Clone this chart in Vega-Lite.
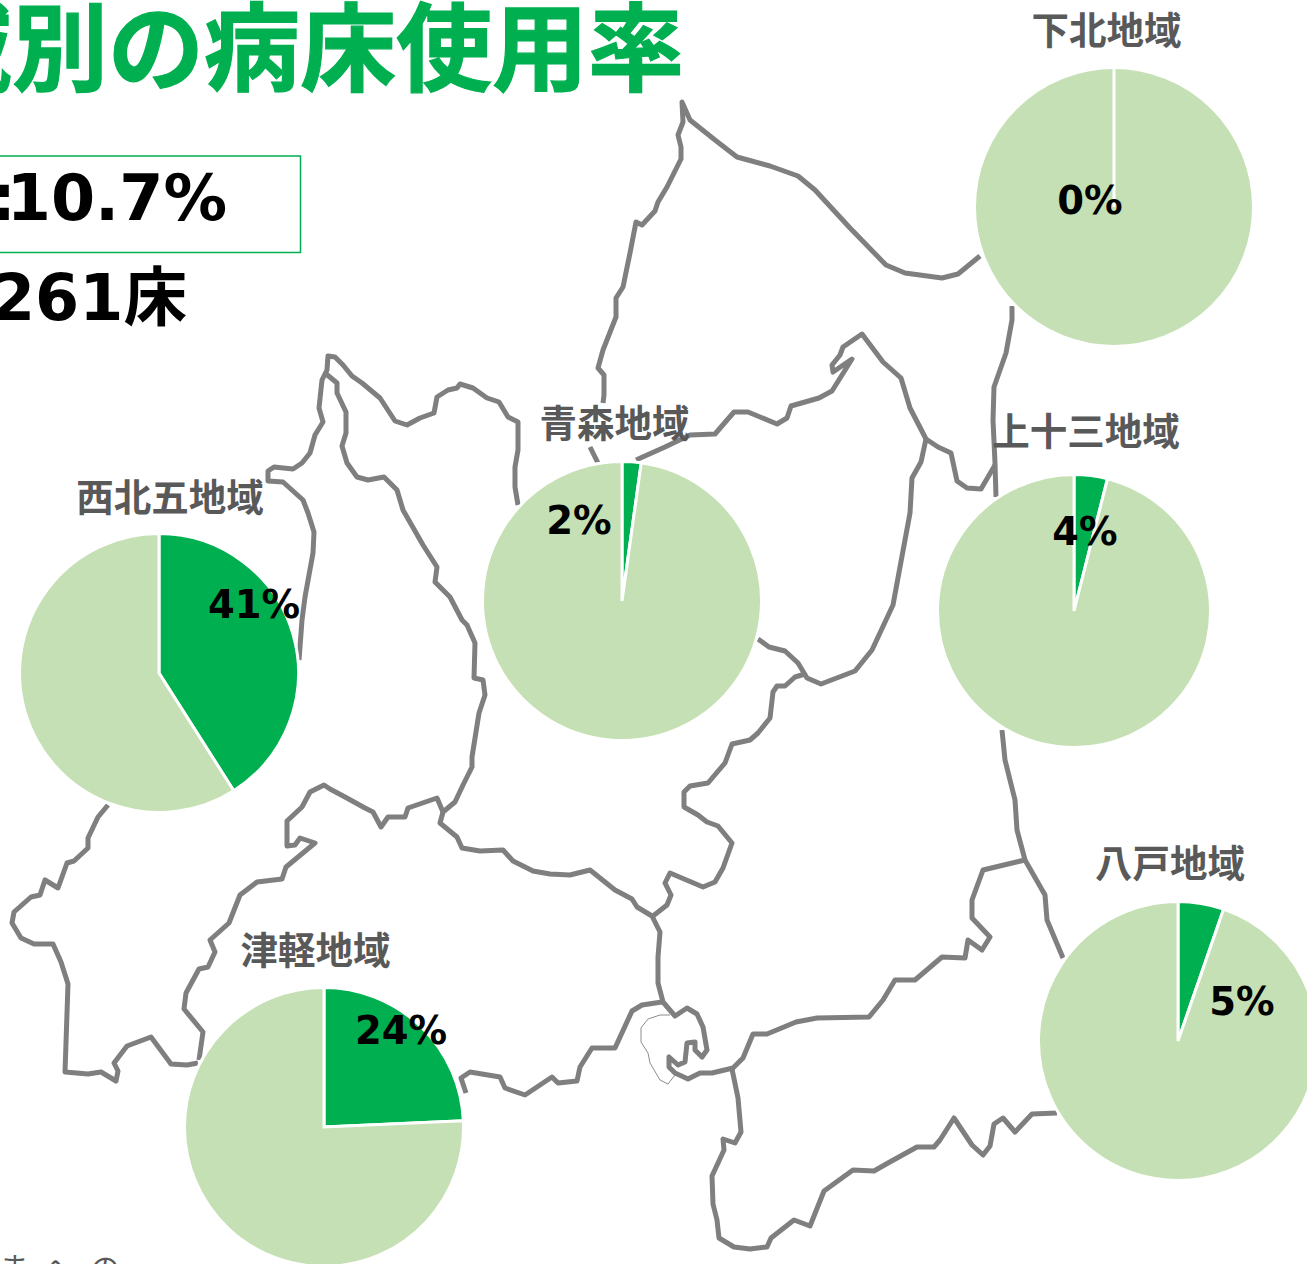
{"$schema":"https://vega.github.io/schema/vega-lite/v6.json","width":1307,"height":1264,"padding":0,"autosize":{"type":"none"},"background":"white","config":{"view":{"stroke":null}},
"datasets":{
"coast":[
{"s":"a","x":980,"y":256},{"s":"a","x":958,"y":274},{"s":"a","x":942,"y":278},{"s":"a","x":905,"y":273},{"s":"a","x":886,"y":265},{"s":"a","x":850,"y":228},{"s":"a","x":815,"y":190},{"s":"a","x":798,"y":176},{"s":"a","x":770,"y":166},{"s":"a","x":737,"y":157},{"s":"a","x":715,"y":140},{"s":"a","x":700,"y":128},{"s":"a","x":690,"y":120},{"s":"a","x":682,"y":102},{"s":"a","x":683,"y":122},{"s":"a","x":678,"y":135},{"s":"a","x":681,"y":147},{"s":"a","x":681,"y":159},{"s":"a","x":667,"y":187},{"s":"a","x":658,"y":202},{"s":"a","x":655,"y":211},{"s":"a","x":642,"y":225},{"s":"a","x":636,"y":222},{"s":"a","x":630,"y":253},{"s":"a","x":623,"y":287},{"s":"a","x":616,"y":298},{"s":"a","x":616,"y":317},{"s":"a","x":603,"y":350},{"s":"a","x":598,"y":368},{"s":"a","x":604,"y":375},{"s":"a","x":604,"y":395},{"s":"a","x":603,"y":403},
{"s":"a2","x":590,"y":447},{"s":"a2","x":598,"y":463},
{"s":"b","x":1012,"y":306},{"s":"b","x":1012,"y":320},{"s":"b","x":1006,"y":353},{"s":"b","x":994,"y":387},{"s":"b","x":993,"y":420},{"s":"b","x":995,"y":463},{"s":"b","x":996,"y":497},
{"s":"c","x":636,"y":460},{"s":"c","x":665,"y":447},{"s":"c","x":690,"y":435},{"s":"c","x":715,"y":434},{"s":"c","x":734,"y":412},{"s":"c","x":748,"y":412},{"s":"c","x":777,"y":424},{"s":"c","x":787,"y":418},{"s":"c","x":791,"y":406},{"s":"c","x":819,"y":398},{"s":"c","x":832,"y":391},{"s":"c","x":852,"y":359},{"s":"c","x":833,"y":372},{"s":"c","x":832,"y":365},{"s":"c","x":840,"y":355},{"s":"c","x":843,"y":347},{"s":"c","x":862,"y":334},{"s":"c","x":883,"y":362},{"s":"c","x":901,"y":378},{"s":"c","x":910,"y":408},{"s":"c","x":926,"y":439},{"s":"c","x":938,"y":447},{"s":"c","x":951,"y":453},{"s":"c","x":957,"y":481},{"s":"c","x":967,"y":488},{"s":"c","x":981,"y":489},{"s":"c","x":995,"y":465},
{"s":"d","x":926,"y":439},{"s":"d","x":921,"y":462},{"s":"d","x":912,"y":478},{"s":"d","x":910,"y":513},{"s":"d","x":900,"y":567},{"s":"d","x":893,"y":605},{"s":"d","x":872,"y":650},{"s":"d","x":855,"y":671},{"s":"d","x":821,"y":684},{"s":"d","x":807,"y":678},{"s":"d","x":798,"y":663},{"s":"d","x":785,"y":651},{"s":"d","x":769,"y":647},{"s":"d","x":758,"y":639},
{"s":"e","x":805,"y":674},{"s":"e","x":795,"y":677},{"s":"e","x":785,"y":686},{"s":"e","x":777,"y":686},{"s":"e","x":773,"y":692},{"s":"e","x":770,"y":718},{"s":"e","x":758,"y":733},{"s":"e","x":750,"y":740},{"s":"e","x":732,"y":744},{"s":"e","x":725,"y":763},{"s":"e","x":708,"y":783},{"s":"e","x":690,"y":786},{"s":"e","x":684,"y":792},{"s":"e","x":684,"y":807},{"s":"e","x":698,"y":815},{"s":"e","x":707,"y":822},{"s":"e","x":718,"y":826},{"s":"e","x":732,"y":843},{"s":"e","x":723,"y":868},{"s":"e","x":715,"y":882},{"s":"e","x":703,"y":887},{"s":"e","x":670,"y":873},{"s":"e","x":665,"y":883},{"s":"e","x":671,"y":895},{"s":"e","x":667,"y":905},{"s":"e","x":653,"y":916},
{"s":"f","x":443,"y":812},{"s":"f","x":440,"y":823},{"s":"f","x":457,"y":837},{"s":"f","x":462,"y":848},{"s":"f","x":480,"y":851},{"s":"f","x":503,"y":850},{"s":"f","x":513,"y":861},{"s":"f","x":533,"y":871},{"s":"f","x":550,"y":874},{"s":"f","x":570,"y":875},{"s":"f","x":590,"y":870},{"s":"f","x":615,"y":890},{"s":"f","x":632,"y":899},{"s":"f","x":637,"y":907},{"s":"f","x":652,"y":916},{"s":"f","x":660,"y":932},{"s":"f","x":658,"y":957},{"s":"f","x":658,"y":983},{"s":"f","x":663,"y":1002},{"s":"f","x":675,"y":1016},{"s":"f","x":687,"y":1008},{"s":"f","x":697,"y":1014},{"s":"f","x":703,"y":1027},{"s":"f","x":707,"y":1050},{"s":"f","x":702,"y":1057},{"s":"f","x":695,"y":1050},{"s":"f","x":695,"y":1042},{"s":"f","x":687,"y":1043},{"s":"f","x":685,"y":1062},{"s":"f","x":678,"y":1065},{"s":"f","x":669,"y":1057},{"s":"f","x":669,"y":1067},{"s":"f","x":675,"y":1073},{"s":"f","x":688,"y":1079},{"s":"f","x":700,"y":1073},{"s":"f","x":712,"y":1073},{"s":"f","x":733,"y":1068},{"s":"f","x":743,"y":1058},{"s":"f","x":753,"y":1034},{"s":"f","x":767,"y":1034},{"s":"f","x":796,"y":1022},{"s":"f","x":817,"y":1018},{"s":"f","x":869,"y":1017},{"s":"f","x":883,"y":1000},{"s":"f","x":895,"y":980},{"s":"f","x":915,"y":980},{"s":"f","x":942,"y":957},{"s":"f","x":965,"y":958},{"s":"f","x":968,"y":940},{"s":"f","x":982,"y":950},{"s":"f","x":990,"y":937},{"s":"f","x":972,"y":918},{"s":"f","x":972,"y":900},{"s":"f","x":983,"y":870},{"s":"f","x":1025,"y":860},{"s":"f","x":1045,"y":895},{"s":"f","x":1047,"y":920},{"s":"f","x":1063,"y":958},
{"s":"g","x":1002,"y":730},{"s":"g","x":1005,"y":760},{"s":"g","x":1015,"y":800},{"s":"g","x":1017,"y":830},{"s":"g","x":1025,"y":860},
{"s":"h","x":732,"y":1069},{"s":"h","x":738,"y":1098},{"s":"h","x":741,"y":1132},{"s":"h","x":735,"y":1143},{"s":"h","x":723,"y":1139},{"s":"h","x":724,"y":1150},{"s":"h","x":712,"y":1176},{"s":"h","x":713,"y":1204},{"s":"h","x":717,"y":1220},{"s":"h","x":719,"y":1238},{"s":"h","x":734,"y":1247},{"s":"h","x":750,"y":1249},{"s":"h","x":767,"y":1247},{"s":"h","x":771,"y":1238},{"s":"h","x":794,"y":1220},{"s":"h","x":810,"y":1226},{"s":"h","x":824,"y":1191},{"s":"h","x":853,"y":1170},{"s":"h","x":874,"y":1171},{"s":"h","x":888,"y":1163},{"s":"h","x":917,"y":1147},{"s":"h","x":934,"y":1147},{"s":"h","x":940,"y":1140},{"s":"h","x":954,"y":1118},{"s":"h","x":972,"y":1145},{"s":"h","x":983,"y":1155},{"s":"h","x":990,"y":1146},{"s":"h","x":994,"y":1124},{"s":"h","x":1003,"y":1118},{"s":"h","x":1015,"y":1132},{"s":"h","x":1032,"y":1114},{"s":"h","x":1057,"y":1113},
{"s":"i","x":299,"y":660},{"s":"i","x":302,"y":620},{"s":"i","x":305,"y":597},{"s":"i","x":313,"y":553},{"s":"i","x":314,"y":532},{"s":"i","x":308,"y":513},{"s":"i","x":303,"y":500},{"s":"i","x":283,"y":482},{"s":"i","x":268,"y":481},{"s":"i","x":268,"y":471},{"s":"i","x":274,"y":467},{"s":"i","x":293,"y":469},{"s":"i","x":302,"y":463},{"s":"i","x":310,"y":453},{"s":"i","x":315,"y":435},{"s":"i","x":323,"y":422},{"s":"i","x":319,"y":408},{"s":"i","x":322,"y":380},{"s":"i","x":327,"y":370},{"s":"i","x":328,"y":356},{"s":"i","x":335,"y":357},{"s":"i","x":343,"y":365},{"s":"i","x":352,"y":376},{"s":"i","x":362,"y":383},{"s":"i","x":380,"y":398},{"s":"i","x":395,"y":421},{"s":"i","x":407,"y":425},{"s":"i","x":420,"y":418},{"s":"i","x":434,"y":413},{"s":"i","x":437,"y":397},{"s":"i","x":448,"y":390},{"s":"i","x":457,"y":388},{"s":"i","x":460,"y":384},{"s":"i","x":473,"y":388},{"s":"i","x":487,"y":398},{"s":"i","x":499,"y":402},{"s":"i","x":508,"y":417},{"s":"i","x":518,"y":422},{"s":"i","x":518,"y":450},{"s":"i","x":515,"y":467},{"s":"i","x":515,"y":487},{"s":"i","x":518,"y":505},
{"s":"j","x":325,"y":373},{"s":"j","x":337,"y":383},{"s":"j","x":337,"y":393},{"s":"j","x":346,"y":412},{"s":"j","x":346,"y":433},{"s":"j","x":342,"y":446},{"s":"j","x":347,"y":463},{"s":"j","x":357,"y":477},{"s":"j","x":368,"y":480},{"s":"j","x":384,"y":477},{"s":"j","x":397,"y":490},{"s":"j","x":403,"y":510},{"s":"j","x":423,"y":545},{"s":"j","x":437,"y":567},{"s":"j","x":435,"y":582},{"s":"j","x":450,"y":597},{"s":"j","x":462,"y":620},{"s":"j","x":467,"y":625},{"s":"j","x":475,"y":643},{"s":"j","x":474,"y":678},{"s":"j","x":483,"y":680},{"s":"j","x":485,"y":695},{"s":"j","x":479,"y":713},{"s":"j","x":472,"y":757},{"s":"j","x":472,"y":767},{"s":"j","x":463,"y":785},{"s":"j","x":455,"y":802},{"s":"j","x":443,"y":812},
{"s":"k","x":108,"y":805},{"s":"k","x":98,"y":817},{"s":"k","x":88,"y":838},{"s":"k","x":88,"y":848},{"s":"k","x":74,"y":861},{"s":"k","x":67,"y":863},{"s":"k","x":58,"y":888},{"s":"k","x":45,"y":880},{"s":"k","x":40,"y":895},{"s":"k","x":31,"y":897},{"s":"k","x":14,"y":912},{"s":"k","x":12,"y":923},{"s":"k","x":21,"y":938},{"s":"k","x":34,"y":944},{"s":"k","x":53,"y":944},{"s":"k","x":61,"y":962},{"s":"k","x":68,"y":984},{"s":"k","x":65,"y":1072},{"s":"k","x":88,"y":1074},{"s":"k","x":101,"y":1072},{"s":"k","x":116,"y":1081},{"s":"k","x":118,"y":1071},{"s":"k","x":114,"y":1063},{"s":"k","x":127,"y":1046},{"s":"k","x":151,"y":1037},{"s":"k","x":171,"y":1064},{"s":"k","x":187,"y":1065},{"s":"k","x":198,"y":1063},
{"s":"l","x":199,"y":1060},{"s":"l","x":203,"y":1032},{"s":"l","x":184,"y":1009},{"s":"l","x":186,"y":993},{"s":"l","x":199,"y":969},{"s":"l","x":208,"y":967},{"s":"l","x":215,"y":952},{"s":"l","x":210,"y":940},{"s":"l","x":229,"y":923},{"s":"l","x":240,"y":895},{"s":"l","x":257,"y":882},{"s":"l","x":282,"y":879},{"s":"l","x":286,"y":867},{"s":"l","x":315,"y":843},{"s":"l","x":300,"y":838},{"s":"l","x":295,"y":845},{"s":"l","x":287,"y":846},{"s":"l","x":287,"y":821},{"s":"l","x":302,"y":807},{"s":"l","x":310,"y":792},{"s":"l","x":324,"y":785},{"s":"l","x":330,"y":789},{"s":"l","x":345,"y":797},{"s":"l","x":365,"y":808},{"s":"l","x":373,"y":812},{"s":"l","x":381,"y":827},{"s":"l","x":388,"y":817},{"s":"l","x":405,"y":817},{"s":"l","x":408,"y":808},{"s":"l","x":437,"y":798},{"s":"l","x":443,"y":812},
{"s":"m","x":466,"y":1093},{"s":"m","x":461,"y":1078},{"s":"m","x":470,"y":1072},{"s":"m","x":500,"y":1077},{"s":"m","x":505,"y":1088},{"s":"m","x":525,"y":1095},{"s":"m","x":552,"y":1077},{"s":"m","x":558,"y":1083},{"s":"m","x":577,"y":1081},{"s":"m","x":580,"y":1067},{"s":"m","x":592,"y":1048},{"s":"m","x":605,"y":1048},{"s":"m","x":615,"y":1048},{"s":"m","x":632,"y":1011},{"s":"m","x":642,"y":1005},{"s":"m","x":662,"y":1002}],
"bay":[{"s":"n","x":670,"y":1015},{"s":"n","x":660,"y":1015},{"s":"n","x":648,"y":1019},{"s":"n","x":641,"y":1028},{"s":"n","x":641,"y":1042},{"s":"n","x":648,"y":1053},{"s":"n","x":650,"y":1063},{"s":"n","x":660,"y":1080},{"s":"n","x":668,"y":1084},{"s":"n","x":675,"y":1075}],
"pies":[
{"area":"下北地域","cx":1114,"cy":207,"part":"使用","start":0,"end":0},{"area":"下北地域","cx":1114,"cy":207,"part":"空き","start":0,"end":100},
{"area":"青森地域","cx":622,"cy":601,"part":"使用","start":0,"end":2.2},{"area":"青森地域","cx":622,"cy":601,"part":"空き","start":2.2,"end":100},
{"area":"西北五地域","cx":159,"cy":673,"part":"使用","start":0,"end":41},{"area":"西北五地域","cx":159,"cy":673,"part":"空き","start":41,"end":100},
{"area":"津軽地域","cx":324,"cy":1127,"part":"使用","start":0,"end":24.3},{"area":"津軽地域","cx":324,"cy":1127,"part":"空き","start":24.3,"end":100},
{"area":"八戸地域","cx":1178,"cy":1041,"part":"使用","start":0,"end":5.3},{"area":"八戸地域","cx":1178,"cy":1041,"part":"空き","start":5.3,"end":100}],
"pieSmall":[{"area":"上十三地域","cx":1074,"cy":611,"part":"使用","start":0,"end":3.95},{"area":"上十三地域","cx":1074,"cy":611,"part":"空き","start":3.95,"end":100}],
"areaNames":[{"t":"下北地域","x":1106.5,"y":44},{"t":"上十三地域","x":1086,"y":445},{"t":"青森地域","x":614.5,"y":437},{"t":"西北五地域","x":170,"y":511},{"t":"津軽地域","x":315.5,"y":964},{"t":"八戸地域","x":1170,"y":877}],
"pct":[{"t":"0%","x":1090,"y":214},{"t":"2%","x":579,"y":534},{"t":"4%","x":1085,"y":545},{"t":"41%","x":254,"y":618},{"t":"24%","x":401,"y":1044},{"t":"5%","x":1242,"y":1015}],
"big":[{"t":"10.7%","x":227,"y":220},{"t":":","x":16,"y":220},{"t":"261床","x":187,"y":320}],
"foot":[{"t":"ま","x":14,"y":1279},{"t":"へ","x":58,"y":1279},{"t":"の","x":105,"y":1279}],
"head":[{"t":"地域別の病床使用率","x":684,"y":83}],
"box":[{"x":-20,"x2":300.5,"y":156,"y2":252.5}]
},
"layer":[
{"data":{"name":"coast"},"mark":{"type":"line","stroke":"#7f7f7f","strokeWidth":5,"strokeJoin":"round","strokeCap":"butt","clip":true},"encoding":{"x":{"field":"x","type":"quantitative","scale":{"domain":[0,1307],"range":[0,1307],"nice":false,"zero":false},"axis":null},"y":{"field":"y","type":"quantitative","scale":{"domain":[0,1264],"range":[0,1264],"nice":false,"zero":false},"axis":null},"detail":{"field":"s"},"order":{"value":null},"size":{"value":5}}},
{"data":{"name":"bay"},"mark":{"type":"line","stroke":"#7f7f7f","strokeWidth":0.9},"encoding":{"x":{"field":"x","type":"quantitative","axis":null},"y":{"field":"y","type":"quantitative","axis":null},"detail":{"field":"s"},"order":{"value":null}}},
{"data":{"name":"box"},"mark":{"type":"rect","fill":"white","stroke":"#00B050","strokeWidth":1.5},"encoding":{"x":{"field":"x","type":"quantitative","axis":null},"x2":{"field":"x2"},"y":{"field":"y","type":"quantitative","axis":null},"y2":{"field":"y2"}}},
{"data":{"name":"pies"},"mark":{"type":"arc","outerRadius":139.5,"stroke":"white","strokeWidth":3},"encoding":{"x":{"field":"cx","type":"quantitative","axis":null},"y":{"field":"cy","type":"quantitative","axis":null},"theta":{"field":"start","type":"quantitative","stack":null,"scale":{"domain":[0,100]}},"theta2":{"field":"end"},"color":{"field":"part","type":"nominal","scale":{"domain":["使用","空き"],"range":["#00B050","#C5E0B4"]},"legend":null},"detail":{"field":"area"}}},
{"data":{"name":"pieSmall"},"mark":{"type":"arc","outerRadius":136.5,"stroke":"white","strokeWidth":3},"encoding":{"x":{"field":"cx","type":"quantitative","axis":null},"y":{"field":"cy","type":"quantitative","axis":null},"theta":{"field":"start","type":"quantitative","stack":null,"scale":{"domain":[0,100]}},"theta2":{"field":"end"},"color":{"field":"part","type":"nominal","legend":null},"detail":{"field":"area"}}},
{"data":{"name":"pies"},"transform":[{"filter":"datum.part === '使用' && datum.end === 0"}],"mark":{"type":"arc","outerRadius":139.5,"stroke":"white","strokeWidth":3},"encoding":{"x":{"field":"cx","type":"quantitative","axis":null},"y":{"field":"cy","type":"quantitative","axis":null},"theta":{"field":"start","type":"quantitative","stack":null,"scale":{"domain":[0,100]}},"theta2":{"field":"end"},"detail":{"field":"area"}}},
{"data":{"name":"areaNames"},"mark":{"type":"text","font":"Noto Sans CJK JP","fontWeight":"bold","fontSize":37.5,"fill":"#595959","align":"center","baseline":"alphabetic"},"encoding":{"x":{"field":"x","type":"quantitative","axis":null},"y":{"field":"y","type":"quantitative","axis":null},"text":{"field":"t"}}},
{"data":{"name":"pct"},"mark":{"type":"text","font":"DejaVu Sans","fontWeight":"bold","fontSize":38.5,"fill":"#000000","align":"center","baseline":"alphabetic"},"encoding":{"x":{"field":"x","type":"quantitative","axis":null},"y":{"field":"y","type":"quantitative","axis":null},"text":{"field":"t"}}},
{"data":{"name":"big"},"mark":{"type":"text","font":"DejaVu Sans, Noto Sans CJK JP","fontWeight":"bold","fontSize":63.5,"fill":"#000000","align":"right","baseline":"alphabetic"},"encoding":{"x":{"field":"x","type":"quantitative","axis":null},"y":{"field":"y","type":"quantitative","axis":null},"text":{"field":"t"}}},
{"data":{"name":"head"},"mark":{"type":"text","font":"Noto Sans CJK JP","fontWeight":"bold","fontSize":96,"fill":"#00B050","stroke":"#00B050","strokeWidth":1.2,"align":"right","baseline":"alphabetic"},"encoding":{"x":{"field":"x","type":"quantitative","axis":null},"y":{"field":"y","type":"quantitative","axis":null},"text":{"field":"t"}}},
{"data":{"name":"foot"},"mark":{"type":"text","font":"Noto Sans CJK JP","fontSize":30,"fill":"#595959","align":"center","baseline":"alphabetic"},"encoding":{"x":{"field":"x","type":"quantitative","axis":null},"y":{"field":"y","type":"quantitative","axis":null},"text":{"field":"t"}}}
]}
